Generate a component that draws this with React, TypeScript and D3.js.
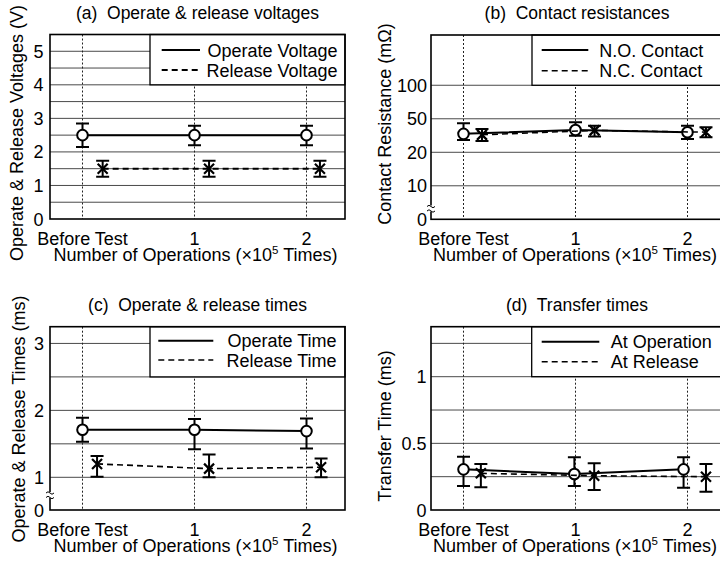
import React from "react";
import * as d3 from "d3";

// ---------- shared ----------
const xCategories = ["Before Test", "1", "2"];
const xCategoryValues = [0, 1, 2];

// ---------- (a) Operate & release voltages ----------
const voltOperateX = [0, 1, 2];
const voltOperateMean = [2.5, 2.5, 2.5];
const voltOperateHi = [2.85, 2.78, 2.78];
const voltOperateLo = [2.15, 2.2, 2.2];
const voltReleaseX = [0.18, 1.13, 2.12];
const voltReleaseMean = [1.5, 1.5, 1.5];
const voltReleaseHi = [1.74, 1.74, 1.74];
const voltReleaseLo = [1.26, 1.26, 1.26];
const voltTicks = [0, 1, 2, 3, 4, 5];
const voltGrid = [0.5, 1, 1.5, 2, 2.5, 3, 3.5, 4, 4.5, 5];

// ---------- (b) Contact resistances ----------
const resNOX = [0, 1, 2];
const resNOMean = [36.5, 40, 38];
const resNOHi = [46, 46.8, 43.8];
const resNOLo = [31, 34.8, 31.8];
const resNCX = [0.165, 1.17, 2.165];
const resNCMean = [35.6, 39.6, 38];
const resNCHi = [40.8, 43.8, 42.3];
const resNCLo = [30, 34.2, 33.5];
const resTicks = [0, 10, 20, 50, 100];
const resGrid = [10, 20, 50, 100];
const resLevels = [0, 10, 20, 50, 100, 200];

// ---------- (c) Operate & release times ----------
const opTimeX = [0, 1, 2];
const opTimeMean = [1.71, 1.71, 1.69];
const opTimeHi = [1.89, 1.87, 1.88];
const opTimeLo = [1.53, 1.42, 1.43];
const relTimeX = [0.13, 1.13, 2.13];
const relTimeMean = [1.2, 1.13, 1.15];
const relTimeHi = [1.32, 1.34, 1.28];
const relTimeLo = [1.01, 1.0, 1.0];
const timeTicks = [0, 1, 2, 3];
const timeGrid = [1, 1.5, 2, 2.5, 3];

// ---------- (d) Transfer times ----------
const atOpX = [0, 0.99, 1.965];
const atOpMean = [0.305, 0.27, 0.305];
const atOpHi = [0.4, 0.395, 0.395];
const atOpLo = [0.18, 0.18, 0.167];
const atRelX = [0.155, 1.167, 2.165];
const atRelMean = [0.275, 0.257, 0.25];
const atRelHi = [0.345, 0.35, 0.345];
const atRelLo = [0.17, 0.15, 0.137];
const transTicks = [0, 0.5, 1];
const transTickLabels = ["0", "0.5", "1"];
const transGrid = [0.25, 0.5, 0.75, 1, 1.25];

const FONT = "'Liberation Sans', Arial, Helvetica, sans-serif";
const FS = 18;
const TITLE_FS = 17.5;

type Series = {
  x: number[];
  mean: number[];
  hi: number[];
  lo: number[];
  marker: "circle" | "x";
  dashed: boolean;
  name: string;
};

type PanelProps = {
  title: string;
  left: number;
  right: number;
  top: number;
  bottom: number;
  y: d3.ScaleLinear<number, number>;
  ticks: number[];
  tickLabels?: string[];
  grid: number[];
  yTitle: string;
  yTitleX: number;
  yTitleCY: number;
  tickRight: number;
  titleY: number;
  series: Series[];
  legend: {
    x0: number;
    bottomVal: number;
    lineX1: number;
    lineX2: number;
    rows: number[];
    textX: number;
    anchor: "start" | "end";
    dashedWidth: number;
  };
  breakY?: number;
  dataDashWidth: number;
};

function Panel(p: PanelProps) {
  const x = d3
    .scaleLinear()
    .domain([0, 2])
    .range([p.left + 32.5, p.left + 32.5 + 224]);
  const { y } = p;
  const clipId = `clip-${p.left}-${p.top}`;
  const legendBottom = y(p.legend.bottomVal);
  const tickBase = p.bottom + 26;
  const xTitleBase = p.bottom + 41.5;
  const titleCX = (p.left + p.right) / 2;

  return (
    <g>
      <defs>
        <clipPath id={clipId}>
          <rect x={p.left} y={p.top} width={p.right - p.left} height={p.bottom - p.top} />
        </clipPath>
      </defs>
      <text
        x={titleCX}
        y={p.titleY}
        textAnchor="middle"
        fontSize={TITLE_FS}
        style={{ whiteSpace: "pre" }}
      >
        {p.title}
      </text>
      {/* horizontal grid */}
      {p.grid.map((g) => (
        <line
          key={"g" + g}
          x1={p.left}
          x2={p.right}
          y1={y(g)}
          y2={y(g)}
          stroke="#4a4a4a"
          strokeWidth={1}
        />
      ))}
      {/* vertical dotted */}
      {xCategoryValues.map((v) => (
        <line
          key={"v" + v}
          x1={x(v)}
          x2={x(v)}
          y1={p.top}
          y2={p.bottom}
          stroke="#222"
          strokeWidth={1}
          strokeDasharray="2,2"
        />
      ))}
      {/* legend box */}
      <rect
        x={p.legend.x0}
        y={p.top}
        width={p.right - p.legend.x0}
        height={legendBottom - p.top}
        fill="#fff"
        stroke="#000"
        strokeWidth={1.3}
      />
      {/* frame */}
      <rect
        x={p.left}
        y={p.top}
        width={p.right - p.left}
        height={p.bottom - p.top}
        fill="none"
        stroke="#000"
        strokeWidth={1.6}
      />
      {/* axis break */}
      {p.breakY !== undefined && (
        <g>
          <rect x={p.left - 4} y={p.breakY - 3} width={8} height={6} fill="#fff" />
          <path
            d={`M${p.left - 4},${p.breakY - 2} q2,-2.5 4,0 t4,0 M${p.left - 4},${p.breakY + 2.5} q2,-2.5 4,0 t4,0`}
            fill="none"
            stroke="#000"
            strokeWidth={1}
          />
        </g>
      )}
      {/* y ticks */}
      {p.ticks.map((t, i) => (
        <text
          key={"t" + t}
          x={p.tickRight}
          y={y(t) + 6.5}
          textAnchor="end"
          fontSize={FS}
        >
          {p.tickLabels ? p.tickLabels[i] : String(t)}
        </text>
      ))}
      {/* x ticks */}
      {xCategories.map((c, i) => (
        <text key={c} x={x(xCategoryValues[i])} y={tickBase} textAnchor="middle" fontSize={FS}>
          {c}
        </text>
      ))}
      <text x={titleCX - 2} y={xTitleBase} textAnchor="middle" fontSize={FS}>
        Number of Operations (×10
        <tspan fontSize={11.5} dy={-6.5}>
          5
        </tspan>
        <tspan dy={6.5}> Times)</tspan>
      </text>
      <text
        transform={`translate(${p.yTitleX},${p.yTitleCY}) rotate(-90)`}
        textAnchor="middle"
        fontSize={FS}
      >
        {p.yTitle}
      </text>
      {/* data */}
      <g clipPath={`url(#${clipId})`}>
        {p.series.map((s, si) => {
          const line = d3
            .line<number>()
            .x((_, i) => x(s.x[i]))
            .y((d) => y(d));
          return (
            <g key={"s" + si}>
              <path
                d={line(s.mean) || ""}
                fill="none"
                stroke="#000"
                strokeWidth={s.dashed ? p.dataDashWidth : 2}
                strokeDasharray={s.dashed ? "6,4" : undefined}
              />
              {s.mean.map((m, i) => {
                const cx = x(s.x[i]);
                return (
                  <g key={i}>
                    <line x1={cx} x2={cx} y1={y(s.hi[i])} y2={y(s.lo[i])} stroke="#000" strokeWidth={2} />
                    <line x1={cx - 6.5} x2={cx + 6.5} y1={y(s.hi[i])} y2={y(s.hi[i])} stroke="#000" strokeWidth={2} />
                    <line x1={cx - 6.5} x2={cx + 6.5} y1={y(s.lo[i])} y2={y(s.lo[i])} stroke="#000" strokeWidth={2} />
                    {s.marker === "circle" ? (
                      <circle cx={cx} cy={y(m)} r={5.3} fill="#fff" stroke="#000" strokeWidth={2} />
                    ) : (
                      <path
                        d={`M${cx - 5},${y(m) - 5}L${cx + 5},${y(m) + 5}M${cx - 5},${y(m) + 5}L${cx + 5},${y(m) - 5}`}
                        stroke="#000"
                        strokeWidth={2.2}
                      />
                    )}
                  </g>
                );
              })}
            </g>
          );
        })}
      </g>
      {/* legend content */}
      {p.series.map((s, si) => (
        <g key={"l" + si}>
          <line
            x1={p.legend.lineX1}
            x2={p.legend.lineX2}
            y1={p.legend.rows[si]}
            y2={p.legend.rows[si]}
            stroke="#000"
            strokeWidth={s.dashed ? p.legend.dashedWidth : 2}
            strokeDasharray={s.dashed ? "6,4" : undefined}
          />
          <text
            x={p.legend.textX}
            y={p.legend.rows[si] + 6.5}
            textAnchor={p.legend.anchor}
            fontSize={FS}
          >
            {s.name}
          </text>
        </g>
      ))}
    </g>
  );
}

export default function App() {
  // (a)
  const aTop = 34.5,
    aBottom = 219;
  const yA = d3.scaleLinear().domain([0, 5.5]).range([aBottom, aTop]);

  // (b) pseudo-log level scale
  const bTop = 35,
    bBottom = 219.3;
  const bStep = (bBottom - bTop) / 5.5;
  const yB = d3
    .scaleLinear()
    .domain(resLevels)
    .range(resLevels.map((_, i) => bBottom - i * bStep));

  // (c) broken axis
  const cTop = 326.7,
    cBottom = 510;
  const yC = d3.scaleLinear().domain([0, 1, 3.25]).range([cBottom, 477.3, cTop]);

  // (d)
  const dTop = 326.7,
    dBottom = 510;
  const yD = d3.scaleLinear().domain([0, 1.375]).range([dBottom, dTop]);

  return (
    <svg
      width={720}
      height={565}
      style={{ position: "absolute", left: 0, top: 0, background: "#fff" }}
      fontFamily={FONT}
    >
      <rect width={720} height={565} fill="#fff" />
      <Panel
        title="(a)  Operate & release voltages"
        left={50}
        right={345}
        top={aTop}
        bottom={aBottom}
        y={yA}
        ticks={voltTicks}
        grid={voltGrid}
        yTitle="Operate & Release Voltages (V)"
        yTitleX={22.5}
        yTitleCY={133}
        tickRight={43.5}
        titleY={18.5}
        dataDashWidth={2}
        series={[
          { x: voltOperateX, mean: voltOperateMean, hi: voltOperateHi, lo: voltOperateLo, marker: "circle", dashed: false, name: "Operate Voltage" },
          { x: voltReleaseX, mean: voltReleaseMean, hi: voltReleaseHi, lo: voltReleaseLo, marker: "x", dashed: true, name: "Release Voltage" },
        ]}
        legend={{ x0: 150, bottomVal: 4, lineX1: 161.7, lineX2: 200, rows: [50, 70], textX: 337.5, anchor: "end", dashedWidth: 2 }}
      />
      <Panel
        title="(b)  Contact resistances"
        left={431}
        right={723}
        top={bTop}
        bottom={bBottom}
        y={yB}
        ticks={resTicks}
        grid={resGrid}
        yTitle="Contact Resistance (mΩ)"
        yTitleX={390.5}
        yTitleCY={124}
        tickRight={427}
        titleY={18.5}
        dataDashWidth={1.5}
        breakY={208.5}
        series={[
          { x: resNOX, mean: resNOMean, hi: resNOHi, lo: resNOLo, marker: "circle", dashed: false, name: "N.O. Contact" },
          { x: resNCX, mean: resNCMean, hi: resNCHi, lo: resNCLo, marker: "x", dashed: true, name: "N.C. Contact" },
        ]}
        legend={{ x0: 532, bottomVal: 100, lineX1: 541.7, lineX2: 588.3, rows: [50, 70.7], textX: 599.3, anchor: "start", dashedWidth: 1.5 }}
      />
      <Panel
        title="(c)  Operate & release times"
        left={50}
        right={345}
        top={cTop}
        bottom={cBottom}
        y={yC}
        ticks={timeTicks}
        grid={timeGrid}
        yTitle="Operate & Release Times (ms)"
        yTitleX={25}
        yTitleCY={419}
        tickRight={44}
        titleY={310.5}
        dataDashWidth={1.6}
        breakY={495}
        series={[
          { x: opTimeX, mean: opTimeMean, hi: opTimeHi, lo: opTimeLo, marker: "circle", dashed: false, name: "Operate Time" },
          { x: relTimeX, mean: relTimeMean, hi: relTimeHi, lo: relTimeLo, marker: "x", dashed: true, name: "Release Time" },
        ]}
        legend={{ x0: 150, bottomVal: 2.5, lineX1: 158.3, lineX2: 213.3, rows: [340.7, 360], textX: 336.5, anchor: "end", dashedWidth: 1.6 }}
      />
      <Panel
        title="(d)  Transfer times"
        left={431}
        right={723}
        top={dTop}
        bottom={dBottom}
        y={yD}
        ticks={transTicks}
        tickLabels={transTickLabels}
        grid={transGrid}
        yTitle="Transfer Time (ms)"
        yTitleX={391}
        yTitleCY={426}
        tickRight={426.5}
        titleY={311}
        dataDashWidth={1.6}
        series={[
          { x: atOpX, mean: atOpMean, hi: atOpHi, lo: atOpLo, marker: "circle", dashed: false, name: "At Operation" },
          { x: atRelX, mean: atRelMean, hi: atRelHi, lo: atRelLo, marker: "x", dashed: true, name: "At Release" },
        ]}
        legend={{ x0: 531.7, bottomVal: 1, lineX1: 541.7, lineX2: 599.3, rows: [341.7, 361.7], textX: 610.7, anchor: "start", dashedWidth: 1.6 }}
      />
    </svg>
  );
}
